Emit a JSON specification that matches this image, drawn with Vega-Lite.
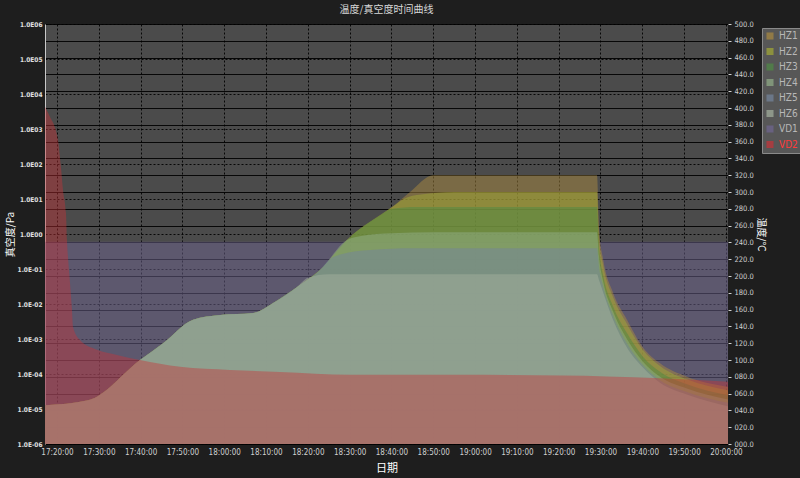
{
  "$schema": "https://vega.github.io/schema/vega-lite/v6.json",
  "width": 683,
  "height": 420,
  "autosize": {"type": "none"},
  "padding": {"left": 45, "top": 24, "right": 72, "bottom": 34},
  "background": "#1e1e1e",
  "config": {
    "view": {"fill": "#4b4b4b", "stroke": null},
    "axis": {"labelFont": "DejaVu Sans Condensed", "titleFont": "Noto Sans CJK SC"},
    "legend": {"labelFont": "DejaVu Sans Condensed"}
  },
  "title": {"text": "温度/真空度时间曲线", "font": "Noto Sans CJK SC", "fontSize": 10, "fontWeight": "normal", "color": "#d8d8d8", "offset": 5, "anchor": "middle"},
  "datasets": {
    "vac": [
      {"t": "2024-01-01T17:17:08Z", "s": "VD1", "v": 0.6},
      {"t": "2024-01-01T20:00:30Z", "s": "VD1", "v": 0.6},
      {"t": "2024-01-01T17:17:08Z", "s": "VD2", "v": 4300},
      {"t": "2024-01-01T17:18:20Z", "s": "VD2", "v": 2200},
      {"t": "2024-01-01T17:19:31Z", "s": "VD2", "v": 1100},
      {"t": "2024-01-01T17:20:14Z", "s": "VD2", "v": 490},
      {"t": "2024-01-01T17:20:57Z", "s": "VD2", "v": 82},
      {"t": "2024-01-01T17:21:26Z", "s": "VD2", "v": 18},
      {"t": "2024-01-01T17:22:09Z", "s": "VD2", "v": 4},
      {"t": "2024-01-01T17:22:23Z", "s": "VD2", "v": 0.67},
      {"t": "2024-01-01T17:22:38Z", "s": "VD2", "v": 0.22},
      {"t": "2024-01-01T17:23:07Z", "s": "VD2", "v": 0.04},
      {"t": "2024-01-01T17:23:35Z", "s": "VD2", "v": 0.0067},
      {"t": "2024-01-01T17:23:50Z", "s": "VD2", "v": 0.0022},
      {"t": "2024-01-01T17:25:30Z", "s": "VD2", "v": 0.00093},
      {"t": "2024-01-01T17:29:34Z", "s": "VD2", "v": 0.00049},
      {"t": "2024-01-01T17:34:21Z", "s": "VD2", "v": 0.00035},
      {"t": "2024-01-01T17:39:51Z", "s": "VD2", "v": 0.00025},
      {"t": "2024-01-01T17:49:26Z", "s": "VD2", "v": 0.00016},
      {"t": "2024-01-01T18:01:23Z", "s": "VD2", "v": 0.00013},
      {"t": "2024-01-01T18:13:21Z", "s": "VD2", "v": 0.000115},
      {"t": "2024-01-01T18:30:06Z", "s": "VD2", "v": 0.000095},
      {"t": "2024-01-01T18:56:25Z", "s": "VD2", "v": 0.000095},
      {"t": "2024-01-01T19:21:03Z", "s": "VD2", "v": 0.00009},
      {"t": "2024-01-01T19:31:35Z", "s": "VD2", "v": 0.000085},
      {"t": "2024-01-01T19:44:16Z", "s": "VD2", "v": 0.000075},
      {"t": "2024-01-01T20:00:30Z", "s": "VD2", "v": 0.00006}
    ],
    "temp": [
      {"t": "2024-01-01T17:17:08Z", "s": "HZ1", "v": 46},
      {"t": "2024-01-01T17:27:25Z", "s": "HZ1", "v": 52},
      {"t": "2024-01-01T17:39:51Z", "s": "HZ1", "v": 100},
      {"t": "2024-01-01T17:45:22Z", "s": "HZ1", "v": 120},
      {"t": "2024-01-01T17:52:32Z", "s": "HZ1", "v": 148},
      {"t": "2024-01-01T17:59:00Z", "s": "HZ1", "v": 153.6},
      {"t": "2024-01-01T18:06:53Z", "s": "HZ1", "v": 156},
      {"t": "2024-01-01T18:11:41Z", "s": "HZ1", "v": 168},
      {"t": "2024-01-01T18:17:25Z", "s": "HZ1", "v": 187},
      {"t": "2024-01-01T18:22:55Z", "s": "HZ1", "v": 207},
      {"t": "2024-01-01T18:29:22Z", "s": "HZ1", "v": 243},
      {"t": "2024-01-01T18:40:09Z", "s": "HZ1", "v": 282},
      {"t": "2024-01-01T18:44:27Z", "s": "HZ1", "v": 300},
      {"t": "2024-01-01T18:50:00Z", "s": "HZ1", "v": 320},
      {"t": "2024-01-01T19:10:00Z", "s": "HZ1", "v": 320},
      {"t": "2024-01-01T19:29:10Z", "s": "HZ1", "v": 320},
      {"t": "2024-01-01T19:29:40Z", "s": "HZ1", "v": 255},
      {"t": "2024-01-01T19:30:40Z", "s": "HZ1", "v": 219},
      {"t": "2024-01-01T19:33:00Z", "s": "HZ1", "v": 180},
      {"t": "2024-01-01T19:36:20Z", "s": "HZ1", "v": 148},
      {"t": "2024-01-01T19:40:10Z", "s": "HZ1", "v": 115},
      {"t": "2024-01-01T19:44:15Z", "s": "HZ1", "v": 96},
      {"t": "2024-01-01T19:50:40Z", "s": "HZ1", "v": 80},
      {"t": "2024-01-01T20:00:30Z", "s": "HZ1", "v": 68},

      {"t": "2024-01-01T17:17:08Z", "s": "HZ2", "v": 46},
      {"t": "2024-01-01T17:27:25Z", "s": "HZ2", "v": 52},
      {"t": "2024-01-01T17:39:51Z", "s": "HZ2", "v": 100},
      {"t": "2024-01-01T17:45:22Z", "s": "HZ2", "v": 120},
      {"t": "2024-01-01T17:52:32Z", "s": "HZ2", "v": 148},
      {"t": "2024-01-01T17:59:00Z", "s": "HZ2", "v": 153.6},
      {"t": "2024-01-01T18:06:53Z", "s": "HZ2", "v": 156},
      {"t": "2024-01-01T18:11:41Z", "s": "HZ2", "v": 168},
      {"t": "2024-01-01T18:17:25Z", "s": "HZ2", "v": 187},
      {"t": "2024-01-01T18:22:55Z", "s": "HZ2", "v": 207},
      {"t": "2024-01-01T18:29:22Z", "s": "HZ2", "v": 243},
      {"t": "2024-01-01T18:40:09Z", "s": "HZ2", "v": 282},
      {"t": "2024-01-01T18:43:00Z", "s": "HZ2", "v": 292},
      {"t": "2024-01-01T18:47:00Z", "s": "HZ2", "v": 297},
      {"t": "2024-01-01T18:55:00Z", "s": "HZ2", "v": 300},
      {"t": "2024-01-01T19:29:10Z", "s": "HZ2", "v": 300},
      {"t": "2024-01-01T19:29:40Z", "s": "HZ2", "v": 245},
      {"t": "2024-01-01T19:30:40Z", "s": "HZ2", "v": 212},
      {"t": "2024-01-01T19:33:00Z", "s": "HZ2", "v": 175},
      {"t": "2024-01-01T19:36:20Z", "s": "HZ2", "v": 143},
      {"t": "2024-01-01T19:40:10Z", "s": "HZ2", "v": 112},
      {"t": "2024-01-01T19:44:15Z", "s": "HZ2", "v": 93},
      {"t": "2024-01-01T19:50:40Z", "s": "HZ2", "v": 77},
      {"t": "2024-01-01T20:00:30Z", "s": "HZ2", "v": 64},

      {"t": "2024-01-01T17:17:08Z", "s": "HZ3", "v": 46},
      {"t": "2024-01-01T17:27:25Z", "s": "HZ3", "v": 52},
      {"t": "2024-01-01T17:39:51Z", "s": "HZ3", "v": 100},
      {"t": "2024-01-01T17:45:22Z", "s": "HZ3", "v": 120},
      {"t": "2024-01-01T17:52:32Z", "s": "HZ3", "v": 148},
      {"t": "2024-01-01T17:59:00Z", "s": "HZ3", "v": 153.6},
      {"t": "2024-01-01T18:06:53Z", "s": "HZ3", "v": 156},
      {"t": "2024-01-01T18:11:41Z", "s": "HZ3", "v": 168},
      {"t": "2024-01-01T18:17:25Z", "s": "HZ3", "v": 187},
      {"t": "2024-01-01T18:22:55Z", "s": "HZ3", "v": 207},
      {"t": "2024-01-01T18:29:22Z", "s": "HZ3", "v": 243},
      {"t": "2024-01-01T18:37:00Z", "s": "HZ3", "v": 271},
      {"t": "2024-01-01T18:40:09Z", "s": "HZ3", "v": 280},
      {"t": "2024-01-01T18:46:00Z", "s": "HZ3", "v": 282},
      {"t": "2024-01-01T19:29:10Z", "s": "HZ3", "v": 282},
      {"t": "2024-01-01T19:29:40Z", "s": "HZ3", "v": 232},
      {"t": "2024-01-01T19:30:40Z", "s": "HZ3", "v": 200},
      {"t": "2024-01-01T19:33:00Z", "s": "HZ3", "v": 164},
      {"t": "2024-01-01T19:36:20Z", "s": "HZ3", "v": 132},
      {"t": "2024-01-01T19:40:10Z", "s": "HZ3", "v": 104},
      {"t": "2024-01-01T19:44:15Z", "s": "HZ3", "v": 86},
      {"t": "2024-01-01T19:50:40Z", "s": "HZ3", "v": 71},
      {"t": "2024-01-01T20:00:30Z", "s": "HZ3", "v": 58},

      {"t": "2024-01-01T17:17:08Z", "s": "HZ4", "v": 46},
      {"t": "2024-01-01T17:27:25Z", "s": "HZ4", "v": 52},
      {"t": "2024-01-01T17:39:51Z", "s": "HZ4", "v": 100},
      {"t": "2024-01-01T17:45:22Z", "s": "HZ4", "v": 120},
      {"t": "2024-01-01T17:52:32Z", "s": "HZ4", "v": 148},
      {"t": "2024-01-01T17:59:00Z", "s": "HZ4", "v": 153.6},
      {"t": "2024-01-01T18:06:53Z", "s": "HZ4", "v": 156},
      {"t": "2024-01-01T18:11:41Z", "s": "HZ4", "v": 168},
      {"t": "2024-01-01T18:17:25Z", "s": "HZ4", "v": 187},
      {"t": "2024-01-01T18:22:55Z", "s": "HZ4", "v": 207},
      {"t": "2024-01-01T18:29:22Z", "s": "HZ4", "v": 243},
      {"t": "2024-01-01T18:33:00Z", "s": "HZ4", "v": 248},
      {"t": "2024-01-01T18:40:00Z", "s": "HZ4", "v": 251},
      {"t": "2024-01-01T18:50:00Z", "s": "HZ4", "v": 252},
      {"t": "2024-01-01T19:29:10Z", "s": "HZ4", "v": 252},
      {"t": "2024-01-01T19:29:40Z", "s": "HZ4", "v": 222},
      {"t": "2024-01-01T19:30:40Z", "s": "HZ4", "v": 193},
      {"t": "2024-01-01T19:33:00Z", "s": "HZ4", "v": 158},
      {"t": "2024-01-01T19:36:20Z", "s": "HZ4", "v": 125},
      {"t": "2024-01-01T19:40:10Z", "s": "HZ4", "v": 98},
      {"t": "2024-01-01T19:44:15Z", "s": "HZ4", "v": 80},
      {"t": "2024-01-01T19:50:40Z", "s": "HZ4", "v": 66},
      {"t": "2024-01-01T20:00:30Z", "s": "HZ4", "v": 53},

      {"t": "2024-01-01T17:17:08Z", "s": "HZ5", "v": 46},
      {"t": "2024-01-01T17:27:25Z", "s": "HZ5", "v": 52},
      {"t": "2024-01-01T17:39:51Z", "s": "HZ5", "v": 100},
      {"t": "2024-01-01T17:45:22Z", "s": "HZ5", "v": 120},
      {"t": "2024-01-01T17:52:32Z", "s": "HZ5", "v": 148},
      {"t": "2024-01-01T17:59:00Z", "s": "HZ5", "v": 153.6},
      {"t": "2024-01-01T18:06:53Z", "s": "HZ5", "v": 156},
      {"t": "2024-01-01T18:11:41Z", "s": "HZ5", "v": 168},
      {"t": "2024-01-01T18:17:25Z", "s": "HZ5", "v": 187},
      {"t": "2024-01-01T18:22:55Z", "s": "HZ5", "v": 207},
      {"t": "2024-01-01T18:25:00Z", "s": "HZ5", "v": 219},
      {"t": "2024-01-01T18:28:00Z", "s": "HZ5", "v": 226},
      {"t": "2024-01-01T18:35:00Z", "s": "HZ5", "v": 231},
      {"t": "2024-01-01T18:45:00Z", "s": "HZ5", "v": 233},
      {"t": "2024-01-01T19:29:10Z", "s": "HZ5", "v": 233},
      {"t": "2024-01-01T19:29:40Z", "s": "HZ5", "v": 210},
      {"t": "2024-01-01T19:30:40Z", "s": "HZ5", "v": 187},
      {"t": "2024-01-01T19:33:00Z", "s": "HZ5", "v": 153},
      {"t": "2024-01-01T19:36:20Z", "s": "HZ5", "v": 120},
      {"t": "2024-01-01T19:40:10Z", "s": "HZ5", "v": 94},
      {"t": "2024-01-01T19:44:15Z", "s": "HZ5", "v": 76},
      {"t": "2024-01-01T19:50:40Z", "s": "HZ5", "v": 62},
      {"t": "2024-01-01T20:00:30Z", "s": "HZ5", "v": 49},

      {"t": "2024-01-01T17:17:08Z", "s": "HZ6", "v": 46},
      {"t": "2024-01-01T17:27:25Z", "s": "HZ6", "v": 52},
      {"t": "2024-01-01T17:39:51Z", "s": "HZ6", "v": 100},
      {"t": "2024-01-01T17:45:22Z", "s": "HZ6", "v": 120},
      {"t": "2024-01-01T17:52:32Z", "s": "HZ6", "v": 148},
      {"t": "2024-01-01T17:59:00Z", "s": "HZ6", "v": 153.6},
      {"t": "2024-01-01T18:06:53Z", "s": "HZ6", "v": 156},
      {"t": "2024-01-01T18:11:41Z", "s": "HZ6", "v": 168},
      {"t": "2024-01-01T18:17:25Z", "s": "HZ6", "v": 187},
      {"t": "2024-01-01T18:20:00Z", "s": "HZ6", "v": 198},
      {"t": "2024-01-01T18:25:00Z", "s": "HZ6", "v": 202},
      {"t": "2024-01-01T19:29:10Z", "s": "HZ6", "v": 202},
      {"t": "2024-01-01T19:29:40Z", "s": "HZ6", "v": 195},
      {"t": "2024-01-01T19:30:40Z", "s": "HZ6", "v": 180},
      {"t": "2024-01-01T19:33:00Z", "s": "HZ6", "v": 148},
      {"t": "2024-01-01T19:36:20Z", "s": "HZ6", "v": 115},
      {"t": "2024-01-01T19:40:10Z", "s": "HZ6", "v": 91},
      {"t": "2024-01-01T19:44:15Z", "s": "HZ6", "v": 73},
      {"t": "2024-01-01T19:50:40Z", "s": "HZ6", "v": 59},
      {"t": "2024-01-01T20:00:30Z", "s": "HZ6", "v": 45}
    ]
  },
  "layer": [
    {
      "data": {"name": "vac"},
      "transform": [{"filter": "datum.s === 'VD1'"}],
      "mark": {"type": "area", "opacity": 0.5, "interpolate": "monotone"},
      "encoding": {
        "x": {"field": "t", "type": "temporal",
          "scale": {"type": "utc", "domain": [1704129428000, 1704139230000]},
          "axis": {"format": "%H:%M:%S", "values": [1704129600000, 1704130200000, 1704130800000, 1704131400000, 1704132000000, 1704132600000, 1704133200000, 1704133800000, 1704134400000, 1704135000000, 1704135600000, 1704136200000, 1704136800000, 1704137400000, 1704138000000, 1704138600000, 1704139200000], "grid": true, "gridColor": "#000000", "gridDash": [2, 2], "gridOpacity": 0.9, "domain": false, "ticks": false, "labelColor": "#d0d0d0", "labelFontSize": 8, "labelPadding": 4, "labelFlush": false, "labelOverlap": false, "title": "日期", "titleColor": "#ffffff", "titleFontSize": 11, "titleFontWeight": "normal", "titlePadding": 6}},
        "y": {"field": "v", "type": "quantitative",
          "scale": {"type": "log", "domain": [1e-6, 1e6]},
          "axis": {"orient": "left", "values": [1e-6, 1e-5, 1e-4, 1e-3, 1e-2, 1e-1, 1, 10, 100, 1000, 10000, 100000, 1000000],
            "labelExpr": "'1.0E' + (datum.value < 0.5 ? '-0' : '0') + abs(round(log(datum.value) / log(10)))",
            "grid": true, "gridColor": "#000000", "gridDash": [2, 2], "gridOpacity": 0.9, "domain": true, "domainColor": "#c8c8c8", "ticks": false, "labelColor": "#e0e0e0", "labelFontSize": 6.5, "labelFontWeight": "bold", "labelPadding": 3, "labelFlush": false,
            "title": "真空度/Pa", "titleColor": "#ffffff", "titleFontSize": 10, "titleFontWeight": "normal", "titlePadding": 2}},
        "y2": {"datum": 1e-6},
        "color": {"field": "s", "type": "nominal",
          "scale": {"domain": ["HZ1", "HZ2", "HZ3", "HZ4", "HZ5", "HZ6", "VD1", "VD2"], "range": ["#a9893f", "#a2aa33", "#4e8a44", "#92ae88", "#74849c", "#a4b09e", "#6f6591", "#c83238"]},
          "legend": {"orient": "none", "legendX": 717, "legendY": 4, "title": null, "fillColor": "#575757", "strokeColor": "#8a8a8a", "padding": 3, "symbolType": "square", "symbolSize": 50, "symbolOpacity": 0.7, "symbolStrokeWidth": 0, "labelFontSize": 10, "labelColor": "#b8b8b8", "rowPadding": 5.5, "labelOffset": 4,
            "encode": {"labels": {"update": {"fill": {"signal": "datum.value === 'VD2' ? '#ff3a3a' : '#b8b8b8'"}}}}}}
      }
    },
    {
      "data": {"name": "temp"},
      "mark": {"type": "area", "opacity": 0.5, "interpolate": "monotone"},
      "encoding": {
        "x": {"field": "t", "type": "temporal",
          "scale": {"type": "utc", "domain": [1704129428000, 1704139230000]},
          "axis": {"format": "%H:%M:%S", "values": [1704129600000, 1704130200000, 1704130800000, 1704131400000, 1704132000000, 1704132600000, 1704133200000, 1704133800000, 1704134400000, 1704135000000, 1704135600000, 1704136200000, 1704136800000, 1704137400000, 1704138000000, 1704138600000, 1704139200000], "grid": true, "gridColor": "#000000", "gridDash": [2, 2], "gridOpacity": 0.9, "domain": false, "ticks": false, "labelColor": "#d0d0d0", "labelFontSize": 8, "labelPadding": 4, "labelFlush": false, "labelOverlap": false, "title": "日期", "titleColor": "#ffffff", "titleFontSize": 11, "titleFontWeight": "normal", "titlePadding": 6}},
        "y": {"field": "v", "type": "quantitative", "stack": null,
          "scale": {"domain": [0, 500], "nice": false},
          "axis": {"orient": "right", "values": [0, 20, 40, 60, 80, 100, 120, 140, 160, 180, 200, 220, 240, 260, 280, 300, 320, 340, 360, 380, 400, 420, 440, 460, 480, 500],
            "format": "05.1f",
            "grid": true, "gridColor": "#000000", "gridWidth": 1, "gridOpacity": 0.9, "domain": false, "ticks": true, "tickSize": 3, "tickColor": "#d0d0d0", "labelColor": "#d0d0d0", "labelFontSize": 7.5, "labelPadding": 3, "labelFlush": false,
            "title": "温度/℃", "titleColor": "#ffffff", "titleFontSize": 10, "titleFontWeight": "normal", "titleAngle": 90, "titlePadding": 2}},
        "color": {"field": "s", "type": "nominal",
          "scale": {"domain": ["HZ1", "HZ2", "HZ3", "HZ4", "HZ5", "HZ6", "VD1", "VD2"], "range": ["#a9893f", "#a2aa33", "#4e8a44", "#92ae88", "#74849c", "#a4b09e", "#6f6591", "#c83238"]},
          "legend": {"orient": "none", "legendX": 717, "legendY": 4, "title": null, "fillColor": "#575757", "strokeColor": "#8a8a8a", "padding": 3, "symbolType": "square", "symbolSize": 50, "symbolOpacity": 0.7, "symbolStrokeWidth": 0, "labelFontSize": 10, "labelColor": "#b8b8b8", "rowPadding": 5.5, "labelOffset": 4,
            "encode": {"labels": {"update": {"fill": {"signal": "datum.value === 'VD2' ? '#ff3a3a' : '#b8b8b8'"}}}}}}
      }
    },
    {
      "data": {"name": "vac"},
      "transform": [{"filter": "datum.s === 'VD2'"}],
      "mark": {"type": "area", "opacity": 0.42, "interpolate": "monotone"},
      "encoding": {
        "x": {"field": "t", "type": "temporal",
          "scale": {"type": "utc", "domain": [1704129428000, 1704139230000]},
          "axis": {"format": "%H:%M:%S", "values": [1704129600000, 1704130200000, 1704130800000, 1704131400000, 1704132000000, 1704132600000, 1704133200000, 1704133800000, 1704134400000, 1704135000000, 1704135600000, 1704136200000, 1704136800000, 1704137400000, 1704138000000, 1704138600000, 1704139200000], "grid": true, "gridColor": "#000000", "gridDash": [2, 2], "gridOpacity": 0.9, "domain": false, "ticks": false, "labelColor": "#d0d0d0", "labelFontSize": 8, "labelPadding": 4, "labelFlush": false, "labelOverlap": false, "title": "日期", "titleColor": "#ffffff", "titleFontSize": 11, "titleFontWeight": "normal", "titlePadding": 6}},
        "y": {"field": "v", "type": "quantitative",
          "scale": {"type": "log", "domain": [1e-6, 1e6]},
          "axis": null},
        "y2": {"datum": 1e-6},
        "color": {"field": "s", "type": "nominal",
          "scale": {"domain": ["HZ1", "HZ2", "HZ3", "HZ4", "HZ5", "HZ6", "VD1", "VD2"], "range": ["#a9893f", "#a2aa33", "#4e8a44", "#92ae88", "#74849c", "#a4b09e", "#6f6591", "#c83238"]},
          "legend": {"orient": "none", "legendX": 717, "legendY": 4, "title": null, "fillColor": "#575757", "strokeColor": "#8a8a8a", "padding": 3, "symbolType": "square", "symbolSize": 50, "symbolOpacity": 0.7, "symbolStrokeWidth": 0, "labelFontSize": 10, "labelColor": "#b8b8b8", "rowPadding": 5.5, "labelOffset": 4,
            "encode": {"labels": {"update": {"fill": {"signal": "datum.value === 'VD2' ? '#ff3a3a' : '#b8b8b8'"}}}}}}
      }
    }
  ],
  "resolve": {"scale": {"y": "independent"}, "axis": {"y": "independent"}}
}
